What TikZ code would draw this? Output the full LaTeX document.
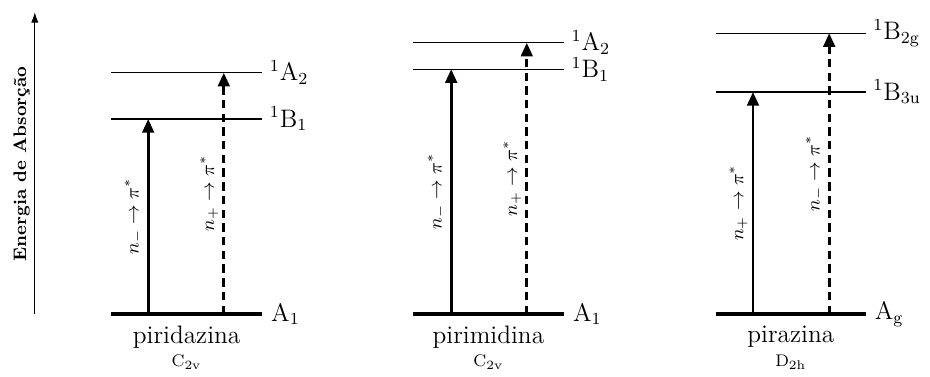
\documentclass[tikz,border=0pt]{standalone}
\usetikzlibrary{arrows.meta}

\tikzstyle{nivel} = [line width=0.5pt]
\tikzstyle{fund} = [line width=1.9pt]
\tikzstyle{trans} = [line width=1.4pt, -{Triangle[length=6.5pt,width=5.5pt]}]
\tikzstyle{transd} = [trans, dash pattern=on 4pt off 2.5pt]
\tikzstyle{estado} = [right, font=\large]
\tikzstyle{rot} = [midway, sloped, above, font=\small, inner sep=2pt]
\tikzstyle{nome} = [font=\large]
\tikzstyle{grupo} = [font=\footnotesize]

\begin{document}
\begin{tikzpicture}
\useasboundingbox (0,0) rectangle (15.5,6.283);
%eixo
\coordinate (e0) at (0.58,1.05);
\coordinate (e1) at (0.58,6.08);
\draw[nivel, -{Latex[length=5pt,width=3.5pt]}] (e0) -- (e1);
\node[rotate=90, font=\fontsize{8.6}{10}\selectfont\bfseries] (energia) at (0.36,3.55) {Energia de Absorção};
%begin piridazina
\draw[fund] (1.85,1.05) coordinate (pdA1) -- (4.37,1.05)
    node[estado] (pdA1l) {A$_1$};
\draw[nivel] (1.85,4.30) coordinate (pdB1) -- (4.37,4.30)
    node[estado] (pdB1l) {$^1$B$_1$};
\draw[nivel] (1.85,5.07) coordinate (pdA2) -- (4.37,5.07)
    node[estado] (pdA2l) {$^1$A$_2$};
\coordinate (pdn1) at (2.47,1.05);
\coordinate (pdn2) at (3.73,1.05);
\draw[trans] (pdn1) -- (pdn1 |- pdB1)
    node[rot] (pdt1) {$n_-\rightarrow\pi^*$};
\draw[transd] (pdn2) -- (pdn2 |- pdA2)
    node[rot] (pdt2) {$n_+\rightarrow\pi^*$};
\node[nome] (pdnome) at (3.11,0.67) {piridazina};
\node[grupo] (pdgrupo) at (3.11,0.25) {C$_{\mathrm{2v}}$};
%end piridazina
%begin pirimidina
\draw[fund] (6.88,1.05) coordinate (pmA1) -- (9.40,1.05)
    node[estado] (pmA1l) {A$_1$};
\draw[nivel] (6.88,5.13) coordinate (pmB1) -- (9.40,5.13)
    node[estado] (pmB1l) {$^1$B$_1$};
\draw[nivel] (6.88,5.57) coordinate (pmA2) -- (9.40,5.57)
    node[estado] (pmA2l) {$^1$A$_2$};
\coordinate (pmn1) at (7.52,1.05);
\coordinate (pmn2) at (8.78,1.05);
\draw[trans] (pmn1) -- (pmn1 |- pmB1)
    node[rot] (pmt1) {$n_-\rightarrow\pi^*$};
\draw[transd] (pmn2) -- (pmn2 |- pmA2)
    node[rot] (pmt2) {$n_+\rightarrow\pi^*$};
\node[nome] (pmnome) at (8.14,0.67) {pirimidina};
\node[grupo] (pmgrupo) at (8.14,0.25) {C$_{\mathrm{2v}}$};
%end pirimidina
%begin pirazina
\draw[fund] (11.93,1.05) coordinate (pzAg) -- (14.43,1.05)
    node[estado] (pzAgl) {A$_{\mathrm{g}}$};
\draw[nivel] (11.93,4.75) coordinate (pzB3) -- (14.43,4.75)
    node[estado] (pzB3l) {$^1$B$_{\mathrm{3u}}$};
\draw[nivel] (11.93,5.73) coordinate (pzB2) -- (14.43,5.73)
    node[estado] (pzB2l) {$^1$B$_{\mathrm{2g}}$};
\coordinate (pzn1) at (12.55,1.05);
\coordinate (pzn2) at (13.82,1.05);
\draw[trans] (pzn1) -- (pzn1 |- pzB3)
    node[rot] (pzt1) {$n_+\rightarrow\pi^*$};
\draw[transd] (pzn2) -- (pzn2 |- pzB2)
    node[rot] (pzt2) {$n_-\rightarrow\pi^*$};
\node[nome] (pznome) at (13.18,0.67) {pirazina};
\node[grupo] (pzgrupo) at (13.18,0.25) {D$_{\mathrm{2h}}$};
%end pirazina
\end{tikzpicture}
\end{document}
